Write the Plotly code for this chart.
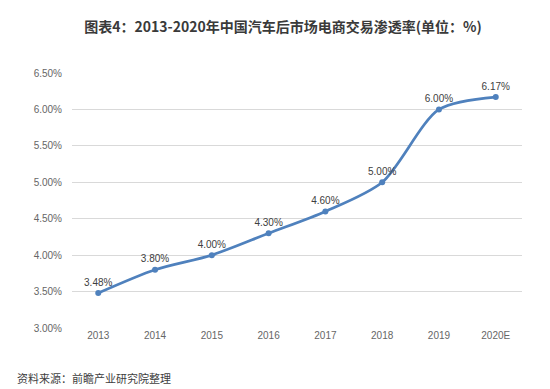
import plotly.graph_objects as go

years = ["2013", "2014", "2015", "2016", "2017", "2018", "2019", "2020E"]
rates = [3.48, 3.80, 4.00, 4.30, 4.60, 5.00, 6.00, 6.17]
labels = ["3.48%", "3.80%", "4.00%", "4.30%", "4.60%", "5.00%", "6.00%", "6.17%"]
tick_vals = [3.0, 3.5, 4.0, 4.5, 5.0, 5.5, 6.0, 6.5]
tick_text = ["3.00%", "3.50%", "4.00%", "4.50%", "5.00%", "5.50%", "6.00%", "6.50%"]

fig = go.Figure()
fig.add_trace(go.Scatter(
    x=years, y=rates, mode="lines+markers+text",
    line=dict(color="#4f81bd", width=2.75, shape="spline", smoothing=0.8),
    marker=dict(size=6, color="#4f81bd"),
    text=labels, textposition="top center",
    textfont=dict(size=10, color="#404040", family="Liberation Sans, Arial, sans-serif"),
    cliponaxis=False, hoverinfo="skip",
))

fig.update_layout(
    width=550, height=389,
    margin=dict(l=64, r=36, t=65, b=69),
    paper_bgcolor="white", plot_bgcolor="white",
    showlegend=False,
    font=dict(family="Liberation Sans, Arial, sans-serif", color="#666666"),
    title=dict(
        text="<b>图表4：2013-2020年中国汽车后市场电商交易渗透率(单位：%)</b>",
        x=0.5, xanchor="center", y=0.951, yanchor="middle",
        font=dict(size=14, color="#3a3a3a", family="Noto Sans CJK SC, sans-serif"),
    ),
    xaxis=dict(
        type="category", showgrid=False, showline=False, zeroline=False,
        ticks="", tickfont=dict(size=10, color="#666666"),
    ),
    yaxis=dict(
        range=[3.0, 6.5], tickvals=tick_vals, ticktext=tick_text,
        showgrid=True, gridcolor="#d9d9d9", gridwidth=1, zeroline=False,
        showline=False, ticks="", ticklabelstandoff=9,
        tickfont=dict(size=10, color="#666666"),
    ),
)

fig.add_annotation(
    text="资料来源：前瞻产业研究院整理", xref="paper", yref="paper",
    x=-0.127, y=-0.196, xanchor="left", yanchor="middle", showarrow=False,
    font=dict(size=11, color="#404040", family="Noto Sans CJK SC, sans-serif"),
)

fig.write_html("out.html")
